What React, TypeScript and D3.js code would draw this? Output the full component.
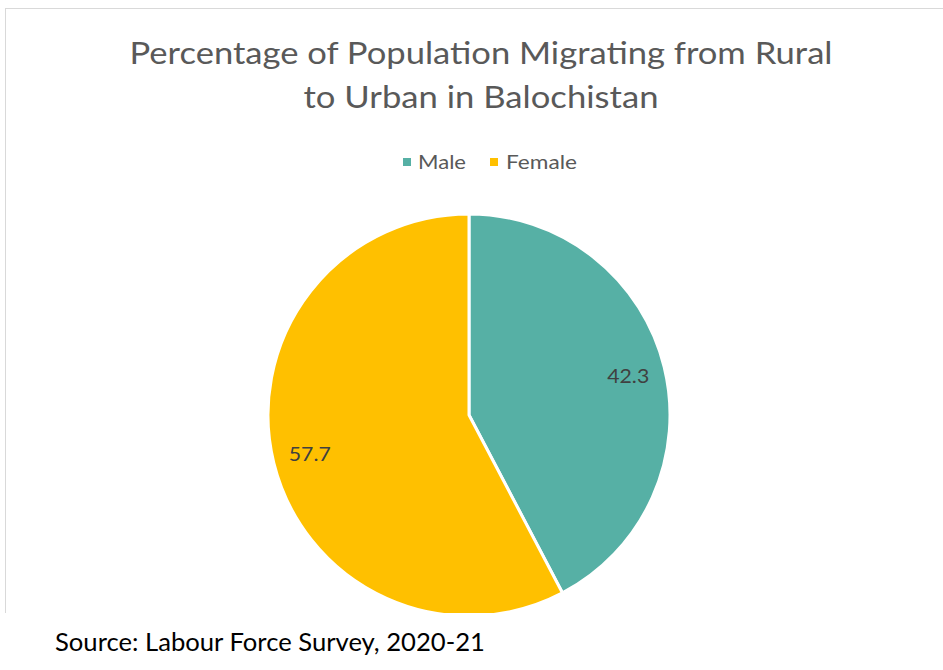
import React from "react";
import * as d3 from "d3";

const categories = ["Male", "Female"];
const values = [42.3, 57.7];
const colors = ["#56B0A5", "#FFC000"];
const titleLines = ["Percentage of Population Migrating from Rural", "to Urban in Balochistan"];
const sourceText = "Source: Labour Force Survey, 2020-21";

const W = 943;
const H = 670;
const cx = 469;
const cy = 415;
const R = 201;
const FONT = "Lato, 'Open Sans', sans-serif";

export default function App() {
  const pie = d3.pie<number>().sort(null).value((d) => d)(values);
  const arc = d3.arc<d3.PieArcDatum<number>>().innerRadius(0).outerRadius(R);
  const labelArc = d3.arc<d3.PieArcDatum<number>>().innerRadius(164).outerRadius(164);
  const fmt = d3.format(".1f");

  return (
    <svg width={W} height={H} style={{ position: "absolute", left: 0, top: 0, background: "#fff" }}>
      <rect x={5.5} y={8.5} width={960} height={700} fill="#fff" stroke="#D9D9D9" strokeWidth={1} />
      {titleLines.map((t, i) => (
        <text
          key={i}
          x={481}
          y={64 + i * 44}
          textAnchor="middle"
          fontFamily={FONT}
          fontSize={30}
          fill="#595959"
          textLength={i === 0 ? 703 : 355}
          lengthAdjust="spacingAndGlyphs"
        >
          {t}
        </text>
      ))}
      <g>
        <rect x={403} y={158} width={8} height={8} fill={colors[0]} />
        <text x={418} y={169} fontFamily={FONT} fontSize={19} fill="#595959" textLength={48} lengthAdjust="spacingAndGlyphs">
          {categories[0]}
        </text>
        <rect x={490} y={158} width={8} height={8} fill={colors[1]} />
        <text x={506} y={169} fontFamily={FONT} fontSize={19} fill="#595959" textLength={71} lengthAdjust="spacingAndGlyphs">
          {categories[1]}
        </text>
      </g>
      <g transform={`translate(${cx},${cy})`}>
        {pie.map((p, i) => (
          <path key={i} d={arc(p) || ""} fill={colors[i]} stroke="#fff" strokeWidth={3} strokeLinejoin="round" />
        ))}
        {pie.map((p, i) => {
          const [lx, ly] = labelArc.centroid(p);
          return (
            <text
              key={"l" + i}
              x={lx}
              y={ly}
              dy="0.35em"
              textAnchor="middle"
              fontFamily={FONT}
              fontSize={20}
              fill="#404040"
              textLength={42}
              lengthAdjust="spacingAndGlyphs"
            >
              {fmt(values[i])}
            </text>
          );
        })}
      </g>
      <rect x={0} y={613} width={W} height={H - 613} fill="#fff" />
      <text x={55} y={651} fontFamily={FONT} fontSize={25} fill="#000" textLength={430} lengthAdjust="spacingAndGlyphs">
        {sourceText}
      </text>
    </svg>
  );
}
